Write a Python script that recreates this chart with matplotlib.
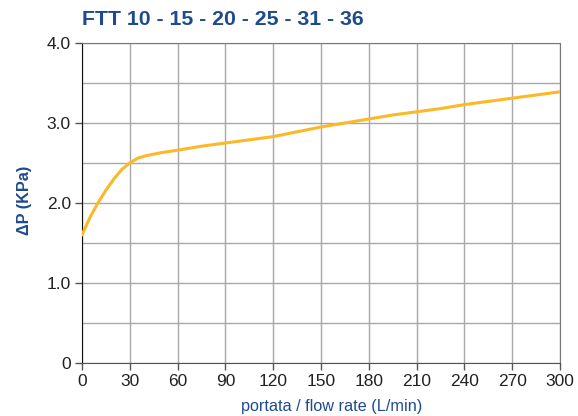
import matplotlib
matplotlib.use("Agg")
import matplotlib.pyplot as plt
import numpy as np

flow = [0, 5, 10, 15, 20, 25, 30, 35, 40, 50, 60, 75, 90, 105, 120, 135, 150, 165, 180, 195, 210, 225, 240, 255, 270, 285, 300]
dp = [1.60, 1.82, 2.00, 2.16, 2.30, 2.42, 2.50, 2.56, 2.59, 2.63, 2.66, 2.71, 2.75, 2.79, 2.83, 2.89, 2.95, 3.00, 3.05, 3.10, 3.14, 3.18, 3.23, 3.27, 3.31, 3.35, 3.39]

xticks = [0, 30, 60, 90, 120, 150, 180, 210, 240, 270, 300]
yticks = [0, 1, 2, 3, 4]
ytick_labels = ["0", "1.0", "2.0", "3.0", "4.0"]

title = "FTT 10 - 15 - 20 - 25 - 31 - 36"
xlabel = "portata / flow rate (L/min)"
ylabel = "ΔP (KPa)"

blue = "#1c4b90"
plt.rcParams['font.family'] = ['Liberation Sans', 'DejaVu Sans']

fig = plt.figure(figsize=(5.78, 4.16), dpi=100)
W, H = 578, 416
ax = fig.add_axes([82 / W, 1 - 363 / H, (560 - 82) / W, (363 - 43) / H])

ax.set_xlim(0, 300)
ax.set_ylim(0, 4)
ax.set_xticks(xticks)
ax.set_yticks(yticks)
ax.set_yticklabels(ytick_labels)
ax.set_yticks(np.arange(0, 4.01, 0.5), minor=True)
ax.grid(True, which='major', color='#a8a8a8', linewidth=1.0)
ax.grid(True, which='minor', axis='y', color='#a8a8a8', linewidth=1.0)
ax.tick_params(which='minor', length=0)
ax.tick_params(which='major', length=5, width=1, color='#555555', labelsize=12.5, labelcolor='#222222', pad=3)
ax.set_axisbelow(True)

for s in ['top', 'right']:
    ax.spines[s].set_color('#777777')
ax.spines['bottom'].set_color('#555555')
ax.spines['left'].set_color('#111111')

ax.plot(flow, dp, color='#fbb928', linewidth=2.2, solid_capstyle='round', zorder=3)

fig.text(82 / W, 1 - 19.5 / H, title, color=blue, fontsize=15.3, fontweight='bold', ha='left', va='center')
fig.text(25 / W, 1 - 200 / H, ylabel, color=blue, fontsize=11.7, fontweight='bold', rotation=90, ha='center', va='center')
fig.text(332 / W, 1 - 407 / H, xlabel, color=blue, fontsize=11.7, ha='center', va='center')

fig.savefig("out.png", dpi=100)
